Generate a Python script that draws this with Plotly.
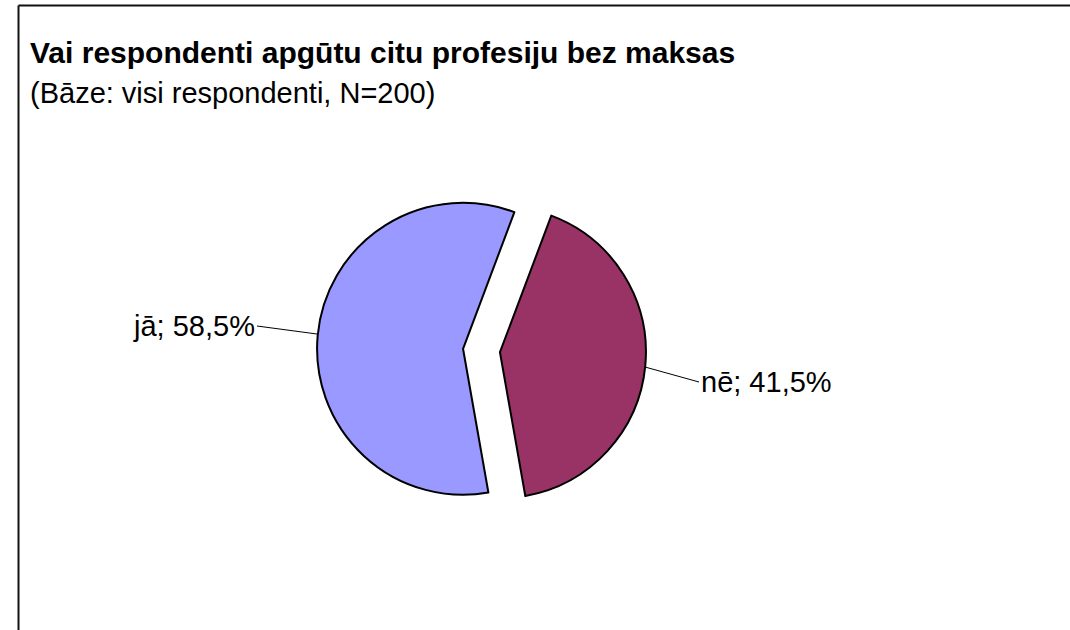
import plotly.graph_objects as go

# Data
categories = ["jā", "nē"]
values = [58.5, 41.5]
colors = ["#9999FF", "#993366"]
title_text = "Vai respondenti apgūtu citu profesiju bez maksas"
subtitle_text = "(Bāze: visi respondenti, N=200)"

W, H = 1070, 630
FONT = "Liberation Sans, Arial, sans-serif"


def px(x):
    return x / W


def py(y):
    return 1 - y / H


def fmt(v):
    return f"{v:.1f}".replace(".", ",") + "%"


fig = go.Figure()
fig.add_trace(go.Pie(
    labels=categories,
    values=values,
    sort=False,
    direction="clockwise",
    rotation=170,
    pull=[0.127, 0.127],
    marker=dict(colors=colors, line=dict(color="black", width=2)),
    textinfo="none",
    hoverinfo="label+percent",
    showlegend=False,
    domain=dict(x=[px(317), px(646)], y=[py(515), py(186)]),
))

labels_txt = [f"{c}; {fmt(v)}" for c, v in zip(categories, values)]

annotations = [
    dict(text=f"<b>{title_text}</b>", x=px(28), y=py(52), xref="paper", yref="paper",
         xanchor="left", yanchor="middle", showarrow=False,
         font=dict(family=FONT, size=30, color="black")),
    dict(text=subtitle_text, x=px(28), y=py(93), xref="paper", yref="paper",
         xanchor="left", yanchor="middle", showarrow=False,
         font=dict(family=FONT, size=29, color="black")),
    # leader-line labels
    dict(text=labels_txt[0], x=px(317), y=py(334), xref="paper", yref="paper",
         ax=-60, ay=-8, xanchor="right", yanchor="middle",
         showarrow=True, arrowhead=0, arrowwidth=1, arrowcolor="black", standoff=0,
         font=dict(family=FONT, size=29, color="black")),
    dict(text=labels_txt[1], x=px(645), y=py(367), xref="paper", yref="paper",
         ax=54, ay=15, xanchor="left", yanchor="middle",
         showarrow=True, arrowhead=0, arrowwidth=1, arrowcolor="black", standoff=0,
         font=dict(family=FONT, size=29, color="black")),
]

border = dict(color="#111", width=2)
fig.update_layout(
    width=W, height=H,
    margin=dict(l=0, r=0, t=0, b=0),
    paper_bgcolor="white",
    plot_bgcolor="white",
    annotations=annotations,
    shapes=[
        dict(type="line", xref="paper", yref="paper",
             x0=px(18.5), x1=px(1080), y0=py(5.5), y1=py(5.5), line=border),
        dict(type="line", xref="paper", yref="paper",
             x0=px(18.5), x1=px(18.5), y0=py(5.5), y1=py(640), line=border),
    ],
)

fig.write_html("out.html",
               config={"displayModeBar": False},
               post_script="document.body.style.margin='0';document.body.style.overflow='hidden';")
